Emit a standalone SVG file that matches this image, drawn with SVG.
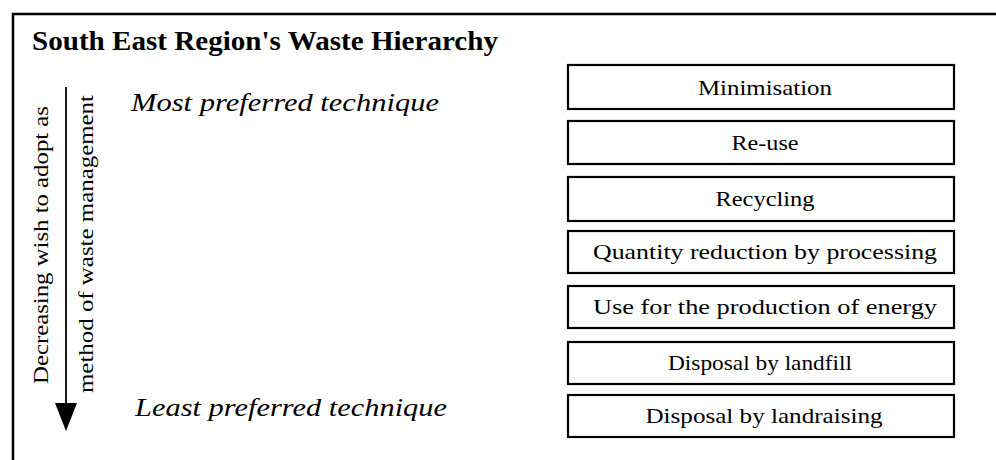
<svg xmlns="http://www.w3.org/2000/svg" width="996" height="460" viewBox="0 0 996 460">
<style>
.frame{fill:none;stroke:#000;stroke-width:2.5}
.box{fill:#fff;stroke:#000;stroke-width:2.2}
.bt{font-family:"Liberation Serif",serif;font-size:21px;text-anchor:middle;fill:#000}
.title{font-family:"Liberation Serif",serif;font-weight:bold;font-size:27px;fill:#000}
.it{font-family:"Liberation Serif",serif;font-style:italic;font-size:25px;fill:#000}
.vt{font-family:"Liberation Serif",serif;font-size:21px;text-anchor:middle;fill:#000}
</style>
<defs>
<marker id="ah" viewBox="0 0 28 22" refX="0" refY="11" markerWidth="28" markerHeight="22" markerUnits="userSpaceOnUse" orient="auto">
<path d="M0,0 L28,11 L0,22 Z" fill="#000"/>
</marker>
</defs>
<rect width="996" height="460" fill="#fff"/>
<path class="frame" d="M13,460 V14 H996"/>
<text class="title" x="32" y="50" textLength="466" lengthAdjust="spacingAndGlyphs">South East Region's Waste Hierarchy</text>
<g id="connectors">
<line x1="66" y1="87" x2="66" y2="403" stroke="#000" stroke-width="1.8" marker-end="url(#ah)"/>
</g>
<text class="vt" transform="translate(48,245) rotate(-90)" textLength="278" lengthAdjust="spacingAndGlyphs">Decreasing wish to adopt as</text>
<text class="vt" transform="translate(93,244) rotate(-90)" textLength="298" lengthAdjust="spacingAndGlyphs">method of waste management</text>
<text class="it" x="131" y="111" textLength="308" lengthAdjust="spacingAndGlyphs">Most preferred technique</text>
<text class="it" x="135" y="416" textLength="312" lengthAdjust="spacingAndGlyphs">Least preferred technique</text>
<g id="n1"><rect class="box" x="568" y="65" width="386" height="44"/><text class="bt" x="765" y="95" textLength="134" lengthAdjust="spacingAndGlyphs">Minimisation</text></g>
<g id="n2"><rect class="box" x="568" y="121" width="386" height="43"/><text class="bt" x="765" y="150" textLength="67" lengthAdjust="spacingAndGlyphs">Re-use</text></g>
<g id="n3"><rect class="box" x="568" y="177" width="386" height="44"/><text class="bt" x="765" y="206" textLength="99" lengthAdjust="spacingAndGlyphs">Recycling</text></g>
<g id="n4"><rect class="box" x="568" y="231" width="386" height="42"/><text class="bt" x="765" y="259" textLength="344" lengthAdjust="spacingAndGlyphs">Quantity reduction by processing</text></g>
<g id="n5"><rect class="box" x="568" y="286" width="386" height="42"/><text class="bt" x="765" y="314" textLength="344" lengthAdjust="spacingAndGlyphs">Use for the production of energy</text></g>
<g id="n6"><rect class="box" x="568" y="342" width="386" height="42"/><text class="bt" x="760" y="370" textLength="184" lengthAdjust="spacingAndGlyphs">Disposal by landfill</text></g>
<g id="n7"><rect class="box" x="568" y="395" width="386" height="42"/><text class="bt" x="764" y="423" textLength="237" lengthAdjust="spacingAndGlyphs">Disposal by landraising</text></g>
</svg>
